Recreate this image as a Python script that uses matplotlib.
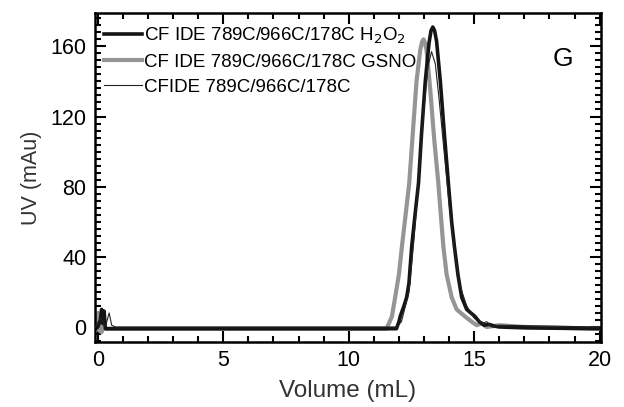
import numpy as np
import matplotlib
matplotlib.use("Agg")
import matplotlib.pyplot as plt
from matplotlib.ticker import MultipleLocator

plt.rcParams['font.family'] = ['Liberation Sans', 'DejaVu Sans']

# CF IDE 789C/966C/178C H2O2 (black, thick)
h2o2_x = [-0.1, 0.0, 0.1, 0.15, 0.2, 0.25, 0.3, 0.5, 1, 5, 10, 11.5, 11.9,
          12.0, 12.05, 12.2, 12.31, 12.4, 12.51, 12.65, 12.78, 12.9, 13.05,
          13.2, 13.28, 13.35, 13.42, 13.5, 13.65, 13.8, 13.97, 14.1, 14.21,
          14.35, 14.5, 14.7, 15.03, 15.2, 15.4, 15.6, 15.8, 16, 17, 20]
h2o2_y = [-1, 0, 4, 10, 2, 9, -1, -1, -1, -1, -1, -1, -1,
          3, 6, 12, 17, 25, 46, 65, 82, 110, 140,
          162, 169, 171, 169, 163, 140, 112, 82, 60, 46,
          30, 17, 10, 6, 3, 1, 1.5, 0.5, 0, -0.5, -1]

# CF IDE 789C/966C/178C GSNO (gray, thick)
gsno_x = [-0.1, 0.0, 0.05, 0.1, 0.15, 0.2, 0.3, 1, 11.5, 11.6, 11.72, 11.85,
          12.0, 12.12, 12.25, 12.41, 12.55, 12.7, 12.85, 12.92, 12.98, 13.04,
          13.1, 13.25, 13.4, 13.57, 13.68, 13.77, 13.9, 14.1, 14.3, 14.63,
          14.9, 15.1, 15.3, 15.5, 16, 17, 20]
gsno_y = [0, 8, -2, 7, -3, 5, -1, -1, -1, 2, 6, 17,
          30, 46, 62, 82, 110, 140, 158, 162.5, 164, 162,
          158, 135, 108, 82, 62, 46, 30, 17, 10, 6,
          3, 1, 2, 0, 1, 0, -1]

# CFIDE 789C/966C/178C (black, thin)
cfide_x = [-0.1, 0.1, 0.3, 0.45, 0.55, 0.7, 11.9, 12.1, 12.4, 12.6, 12.8,
           13.0, 13.15, 13.3, 13.45, 13.6, 13.8, 14.0, 14.2, 14.4, 14.7,
           15.0, 15.3, 15.5, 15.7, 16, 20]
cfide_y = [0, 5, 0, 8, 1, 0, 0, 3, 20, 50, 88,
           125, 148, 157, 150, 130, 100, 70, 45, 25, 12,
           5, 2, 3, 0, 1, 0]

labels = ['CF IDE 789C/966C/178C H$_2$O$_2$',
          'CF IDE 789C/966C/178C GSNO',
          'CFIDE 789C/966C/178C']

fig = plt.figure(figsize=(6.24, 4.07), dpi=100)
ax = fig.add_axes([0.152, 0.16, 0.811, 0.808])

ax.plot(cfide_x, cfide_y, color='#222222', lw=0.8, label=labels[2], zorder=3)
ax.plot(gsno_x, gsno_y, color='#959595', lw=3.0, label=labels[1], zorder=2)
ax.plot(h2o2_x, h2o2_y, color='#151515', lw=2.6, label=labels[0], zorder=2.5)

ax.set_xlim(-0.12, 20.05)
ax.set_ylim(-8.5, 179)
ax.xaxis.set_major_locator(MultipleLocator(5))
ax.xaxis.set_minor_locator(MultipleLocator(1))
ax.yaxis.set_major_locator(MultipleLocator(40))
ax.yaxis.set_minor_locator(MultipleLocator(4))
ax.tick_params(which='both', direction='in', top=True, right=True,
               width=1.5, labelsize=15.5, pad=6)
ax.tick_params(which='major', length=8)
ax.tick_params(which='minor', length=4)
for s in ax.spines.values():
    s.set_linewidth(1.8)

ax.set_xlabel('Volume (mL)', fontsize=17.5, color='#333333', labelpad=6)
ax.set_ylabel('UV (mAu)', fontsize=15.5, color='#333333', labelpad=6)

ax.text(0.925, 0.86, 'G', transform=ax.transAxes, fontsize=19,
        ha='center', va='center')

handles, labs = ax.get_legend_handles_labels()
order = [2, 1, 0]
ax.legend([handles[i] for i in order], [labs[i] for i in order],
          loc='upper left', frameon=False, fontsize=13.5,
          handlelength=2.0, handletextpad=0.1, labelspacing=0.42,
          borderaxespad=0.1, bbox_to_anchor=(0.0, 0.99))

fig.savefig('out.png', dpi=100)
